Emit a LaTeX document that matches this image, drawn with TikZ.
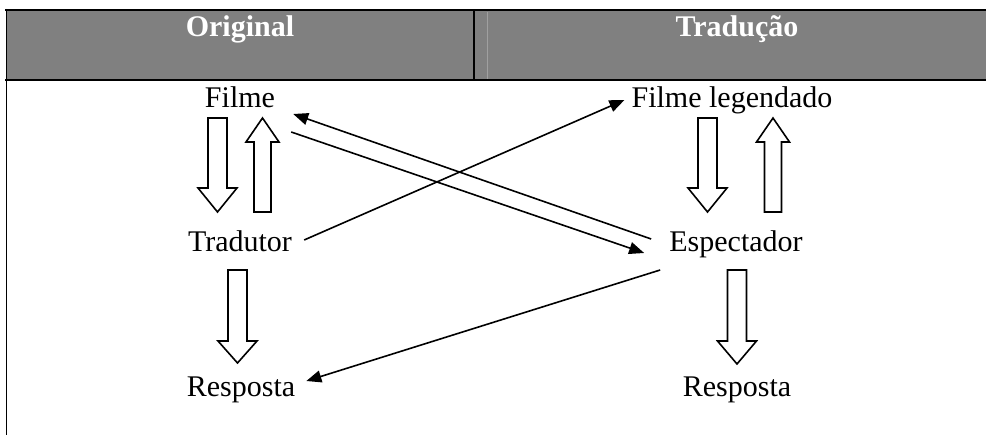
\documentclass[tikz,border=0pt]{standalone}
\usepackage{fontspec}
\setmainfont{Liberation Serif}
\usetikzlibrary{arrows.meta}
\definecolor{headgray}{HTML}{808080}
\definecolor{seamgray}{HTML}{A0A0A0}

\newcommand{\downarrowbox}[4]{\draw[blockarrow] (#1-9.5,#2) -- (#1+9.5,#2) -- (#1+9.5,#3-#4) -- (#1+19.5,#3-#4) -- (#1,#3) -- (#1-19.5,#3-#4) -- (#1-9.5,#3-#4) -- cycle;}
\newcommand{\uparrowbox}[4]{\draw[blockarrow] (#1-8.5,#2) -- (#1+8.5,#2) -- (#1+8.5,#3+#4) -- (#1+16.5,#3+#4) -- (#1,#3) -- (#1-16.5,#3+#4) -- (#1-8.5,#3+#4) -- cycle;}

\begin{document}
\begin{tikzpicture}
[x=1pt,y=-1pt,>={Triangle[length=15pt,width=12pt]},
 txt/.style={anchor=base,inner sep=0pt,font=\fontsize{30}{36}\selectfont},
 headtxt/.style={anchor=base,inner sep=0pt,text=white,font=\fontsize{30}{36}\selectfont\bfseries},
 blockarrow/.style={draw,line width=1.6pt,fill=white,line join=miter},
 link/.style={->,line width=1.6pt}]
\useasboundingbox (0,0) rectangle (986,435);

\fill[headgray] (6,10) rectangle (986,80);
\draw[seamgray,line width=0.8pt] (487.5,12) -- (487.5,79);
\draw[line width=2.6pt] (5,10) -- (986,10);
\draw[line width=2.6pt] (5,80) -- (986,80);
\draw[line width=2.4pt] (474,10) -- (474,80);
\draw[line width=1.6pt] (6.5,9) -- (6.5,435);

\node (orig) at (240,37)[headtxt] {Original};
\node (trad) at (737,37)[headtxt] {Tradução};

\node (filme) at (240,108)[txt] {Filme};
\node (tradutor) at (240,252)[txt] {Tradutor};
\node (resp1) at (241,397)[txt] {Resposta};
\node (legend) at (732,108)[txt] {Filme legendado};
\node (espect) at (736,252)[txt] {Espectador};
\node (resp2) at (737,397)[txt] {Resposta};

\downarrowbox{217.5}{118}{212}{24}
\uparrowbox{262.5}{212}{118}{24}
\downarrowbox{237.5}{270}{363}{22}
\downarrowbox{707.5}{118}{212}{24}
\uparrowbox{773}{212}{118}{24}
\downarrowbox{737}{270}{364}{23}

\draw[link] ([shift={(-18,-13)}]espect.base west) -- ([shift={(18,6)}]filme.base east);
\draw[link] ([shift={(16,24)}]filme.base east) -- ([shift={(-25,1)}]espect.base west);
\draw[link] ([shift={(12,-12)}]tradutor.base east) -- ([shift={(-7,-8)}]legend.base west);
\draw[link] ([shift={(-9,18)}]espect.base west) -- ([shift={(11,-16)}]resp1.base east);

\end{tikzpicture}
\end{document}
